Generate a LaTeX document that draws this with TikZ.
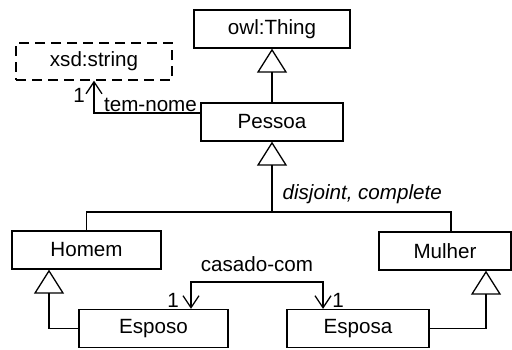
\documentclass[tikz,border=0pt]{standalone}
\usepackage{fontspec}
\setmainfont{Liberation Sans}
\usetikzlibrary{arrows.meta,positioning}

\begin{document}
\begin{tikzpicture}[x=0.5pt,y=-0.5pt,
    font=\fontsize{10.3}{12}\selectfont,
    line width=0.65pt,
    cls/.style={draw, minimum height=19pt, inner sep=0pt},
    gen/.style={-{Triangle[open,length=12pt,width=15pt]}},
    assoc/.style={-{Straight Barb[length=6pt,width=8pt]}},
    mult/.style={inner sep=0pt}]
  \useasboundingbox (0,0) rectangle (512,349);
  % Classes
  \foreach \n/\t/\x/\y/\w in {
        owl/owl:Thing/272/29/78pt,
        pessoa/Pessoa/272/122/71pt,
        homem/Homem/86.5/250/74.5pt,
        mulher/Mulher/445/251/66pt,
        esposo/Esposo/153.5/328.5/74.5pt,
        esposa/Esposa/358/328.5/71pt
  } {
      \node[cls, minimum width=\w] (\n) at (\x,\y) {\t};
  }
  % Datatype
  \node[cls, dashed, dash pattern=on 5pt off 3pt, minimum width=78pt, minimum height=18.5pt] (xsd) at (94,61.5) {xsd:string};
  % Subclass of owl:Thing
  \draw[gen] (pessoa) -- (owl);
  % Generalization set of Pessoa
  \coordinate (split) at (272,212);
  \draw[gen] (split) -- (pessoa);
  \draw (homem.north) |- (split) -| ([xshift=3pt]mulher.north);
  \node[mult, anchor=base west] (gset) at (282,199) {\itshape disjoint, complete};
  % Esposo and Esposa
  \draw[gen] (esposo.west) -| ([xshift=-18.75pt]homem.south);
  \draw[gen] (esposa.east) -| ([xshift=20.5pt]mulher.south);
  % casado-com
  \coordinate (casado) at (257,282);
  \draw[assoc] (casado) -| ([xshift=18.75pt]esposo.north);
  \draw[assoc] (casado) -| ([xshift=-17.5pt]esposa.north);
  \node[mult, above=5pt of casado] (casadolbl) {casado-com};
  \node[mult] (m1) at (173,300) {1};
  \node[mult] (m2) at (338,300) {1};
  % tem-nome
  \draw[assoc] ([yshift=4.5pt]pessoa.west) -| (xsd.south);
  \node[mult, anchor=south] (temnome) at (150.5,112) {tem-nome};
  \node[mult] (m3) at (79,95) {1};
\end{tikzpicture}
\end{document}
